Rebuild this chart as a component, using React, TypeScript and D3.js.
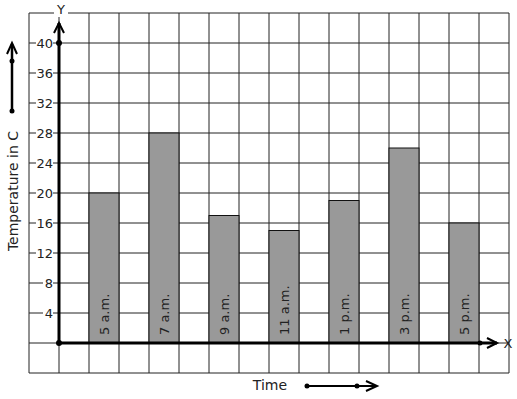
import React from "react";
import * as d3 from "d3";

const categories = ["5 a.m.", "7 a.m.", "9 a.m.", "11 a.m.", "1 p.m.", "3 p.m.", "5 p.m."];
const temps = [20, 28, 17, 15, 19, 26, 16];
const yTicks = [4, 8, 12, 16, 20, 24, 28, 32, 36, 40];
const xLabel = "Time";
const yLabel = "Temperature in C";

const W = 517, H = 399;
const gx0 = 29, gy0 = 13, cell = 30, nCols = 16, nRows = 12;
const ox = 59, oy = 343;

export default function App() {
  const y = d3.scaleLinear().domain([0, 40]).range([oy, oy - 300]);
  // bars in columns: 1 unit = 1 cell; bar i at column index 2 + 2*i from grid left
  const x = d3.scaleLinear().domain([0, nCols]).range([gx0, gx0 + nCols * cell]);
  const font = "DejaVu Sans, sans-serif";
  const vLines = d3.range(nCols + 1).map((i) => x(i));
  const hLines = d3.range(nRows + 1).map((i) => gy0 + i * cell);
  return (
    <svg width={W} height={H} style={{ position: "absolute", left: 0, top: 0, background: "#fff" }}>
      <rect x={0} y={0} width={W} height={H} fill="#fff" />
      {vLines.map((vx, i) => (
        <line key={"v" + i} x1={vx} x2={vx} y1={gy0} y2={gy0 + nRows * cell} stroke="#222" strokeWidth={1} />
      ))}
      {hLines.map((hy, i) => (
        <line key={"h" + i} x1={gx0} x2={gx0 + nCols * cell} y1={hy} y2={hy} stroke="#222" strokeWidth={1} />
      ))}
      {categories.map((c, i) => {
        const bx = x(2 + 2 * i);
        const bw = x(3 + 2 * i) - bx;
        return (
          <g key={c}>
            <rect x={bx} y={y(temps[i])} width={bw} height={oy - y(temps[i])} fill="#999" stroke="#111" strokeWidth={1} />
            <text
              transform={`translate(${bx + bw / 2 + 5},${oy - 8}) rotate(-90)`}
              fontFamily={font}
              fontSize={13}
              fill="#222"
            >
              {c}
            </text>
          </g>
        );
      })}
      {yTicks.map((t) => (
        <g key={t}>
          <rect x={t < 10 ? 43 : 36} y={y(t) - 8} width={t < 10 ? 10 : 17} height={16} fill="#fff" />
          <text x={53} y={y(t) + 5} textAnchor="end" fontFamily={font} fontSize={13} fill="#222">
            {t}
          </text>
        </g>
      ))}
      {/* axes */}
      <line x1={ox} x2={ox} y1={oy} y2={23} stroke="#000" strokeWidth={3} />
      <path d={`M${ox - 5},${33} L${ox},${23} L${ox + 5},${33}`} fill="none" stroke="#000" strokeWidth={2} />
      <line x1={ox} x2={497} y1={oy} y2={oy} stroke="#000" strokeWidth={3} />
      <path d={`M${487},${oy - 5} L${497},${oy} L${487},${oy + 5}`} fill="none" stroke="#000" strokeWidth={2} />
      <circle cx={ox} cy={oy} r={3} fill="#000" />
      <circle cx={ox} cy={y(40)} r={3} fill="#000" />
      <circle cx={480} cy={oy} r={2.5} fill="#000" />
      <rect x={54} y={3} width={14} height={14} fill="#fff" />
      <text x={61} y={14} textAnchor="middle" fontFamily={font} fontSize={13} fill="#222">Y</text>
      <text x={508} y={348} textAnchor="middle" fontFamily={font} fontSize={13} fill="#222">X</text>
      {/* left arrow */}
      <line x1={12} x2={12} y1={111} y2={44} stroke="#000" strokeWidth={2.5} />
      <path d={`M7,54 L12,43 L17,54`} fill="none" stroke="#000" strokeWidth={2} />
      <circle cx={12} cy={111} r={2.5} fill="#000" />
      <circle cx={12} cy={61} r={2.5} fill="#000" />
      <text transform={`translate(18,191) rotate(-90)`} textAnchor="middle" fontFamily={font} fontSize={14} fill="#222">
        {yLabel}
      </text>
      {/* bottom arrow */}
      <text x={270} y={390} textAnchor="middle" fontFamily={font} fontSize={14} fill="#222">{xLabel}</text>
      <line x1={307} x2={376} y1={386} y2={386} stroke="#000" strokeWidth={2} />
      <path d={`M366,381 L377,386 L366,391`} fill="none" stroke="#000" strokeWidth={2} />
      <circle cx={307} cy={386} r={2.5} fill="#000" />
      <circle cx={357} cy={386} r={2.5} fill="#000" />
    </svg>
  );
}
